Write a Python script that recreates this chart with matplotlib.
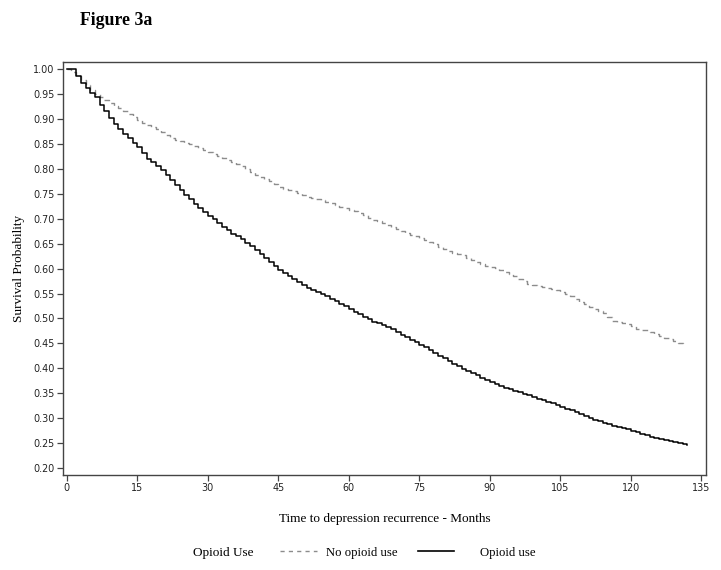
import matplotlib
matplotlib.use('Agg')
import matplotlib.pyplot as plt
from matplotlib.lines import Line2D

# months since baseline
months_opioid = list(range(0, 133))
months_no = list(range(0, 132))

surv_opioid = [
    1.000, 1.000, 0.985, 0.972, 0.962, 0.952, 0.943, 0.928, 0.915, 0.902,
    0.890, 0.880, 0.870, 0.861, 0.852, 0.843, 0.832, 0.820, 0.813, 0.806,
    0.798, 0.788, 0.778, 0.768, 0.758, 0.748, 0.739, 0.730, 0.721, 0.713,
    0.706, 0.699, 0.692, 0.684, 0.677, 0.670, 0.665, 0.659, 0.652, 0.646,
    0.638, 0.630, 0.621, 0.613, 0.605, 0.598, 0.591, 0.585, 0.580, 0.574,
    0.567, 0.562, 0.558, 0.554, 0.550, 0.545, 0.540, 0.535, 0.529, 0.524,
    0.519, 0.513, 0.508, 0.503, 0.498, 0.493, 0.490, 0.487, 0.483, 0.478,
    0.473, 0.467, 0.462, 0.457, 0.452, 0.447, 0.442, 0.436, 0.431, 0.425,
    0.420, 0.414, 0.409, 0.404, 0.399, 0.395, 0.390, 0.386, 0.381, 0.377,
    0.373, 0.369, 0.365, 0.361, 0.358, 0.355, 0.352, 0.349, 0.346, 0.343,
    0.339, 0.336, 0.333, 0.330, 0.326, 0.322, 0.319, 0.316, 0.312, 0.308,
    0.305, 0.301, 0.297, 0.294, 0.291, 0.288, 0.285, 0.283, 0.280, 0.278,
    0.275, 0.272, 0.269, 0.266, 0.263, 0.261, 0.258, 0.256, 0.254, 0.252,
    0.250, 0.248, 0.246,
]

surv_no = [
    1.000, 0.993, 0.985, 0.977, 0.968, 0.958, 0.950, 0.944, 0.938, 0.932,
    0.926, 0.921, 0.915, 0.909, 0.903, 0.897, 0.892, 0.887, 0.883, 0.879,
    0.874, 0.868, 0.862, 0.858, 0.855, 0.852, 0.849, 0.846, 0.842, 0.838,
    0.834, 0.830, 0.826, 0.821, 0.817, 0.813, 0.810, 0.806, 0.800, 0.794,
    0.788, 0.784, 0.780, 0.775, 0.769, 0.764, 0.760, 0.757, 0.755, 0.752,
    0.748, 0.744, 0.741, 0.739, 0.737, 0.734, 0.731, 0.728, 0.724, 0.721,
    0.718, 0.716, 0.712, 0.707, 0.702, 0.698, 0.695, 0.691, 0.688, 0.684,
    0.679, 0.675, 0.671, 0.668, 0.665, 0.661, 0.657, 0.653, 0.649, 0.644,
    0.639, 0.635, 0.632, 0.630, 0.627, 0.622, 0.617, 0.613, 0.609, 0.606,
    0.604, 0.601, 0.597, 0.593, 0.589, 0.585, 0.580, 0.575, 0.570, 0.567,
    0.566, 0.564, 0.562, 0.560, 0.557, 0.554, 0.549, 0.545, 0.540, 0.534,
    0.529, 0.523, 0.518, 0.514, 0.511, 0.502, 0.495, 0.492, 0.491, 0.489,
    0.485, 0.479, 0.477, 0.476, 0.472, 0.468, 0.464, 0.461, 0.458, 0.455,
    0.451, 0.444,
]

xticks = list(range(0, 136, 15))
yticks = [0.20, 0.25, 0.30, 0.35, 0.40, 0.45, 0.50, 0.55, 0.60, 0.65,
          0.70, 0.75, 0.80, 0.85, 0.90, 0.95, 1.00]

serif = 'Liberation Serif'
sans = 'DejaVu Sans'
edge = '#444444'
dash_col = '#8c8c8c'

fig = plt.figure(figsize=(7.21, 5.70), dpi=100)
ax = fig.add_axes([0.0874, 0.1667, 0.892, 0.7254])

ax.plot(months_no, surv_no, drawstyle='steps-post', color=dash_col,
        lw=1.0, dashes=(4, 3))
ax.plot(months_opioid, surv_opioid, drawstyle='steps-post', color='black',
        lw=1.1)

ax.set_xlim(-0.8, 136)
ax.set_ylim(0.1866, 1.0146)
ax.set_xticks(xticks)
ax.set_yticks(yticks)
ax.set_yticklabels(['%.2f' % v for v in yticks])
ax.tick_params(labelsize=6.9, color=edge, labelcolor='#222222', length=4,
               width=0.9, pad=2)
for lab in ax.get_xticklabels() + ax.get_yticklabels():
    lab.set_family(sans)
for s in ax.spines.values():
    s.set_color(edge)
    s.set_linewidth(1.0)

ax.set_xlabel('Time to depression recurrence - Months', family=serif,
              fontsize=9.5, labelpad=14)
ax.set_ylabel('Survival Probability', family=serif, fontsize=9.5,
              labelpad=6)

fig.text(0.111, 0.964, 'Figure 3a', family=serif, fontsize=12.8,
         fontweight='bold', va='center')

# legend row at the bottom
fig.text(0.268, 0.030, 'Opioid Use', family=serif, fontsize=9.5,
         va='center')
leg_font = {'family': serif, 'size': 9.2}
leg1 = fig.legend([Line2D([], [], color=dash_col, lw=1.0, dashes=(3, 3))],
                  ['No opioid use'], loc='center left',
                  bbox_to_anchor=(0.388, 0.030), frameon=False, prop=leg_font,
                  handlelength=2.9, handletextpad=0.7, borderpad=0,
                  borderaxespad=0)
fig.legend([Line2D([], [], color='black', lw=1.2)], ['Opioid use'],
           loc='center left', bbox_to_anchor=(0.580, 0.030), frameon=False,
           prop=leg_font, handlelength=2.8, handletextpad=2.0, borderpad=0,
           borderaxespad=0)

plt.savefig('out.png', dpi=100)
